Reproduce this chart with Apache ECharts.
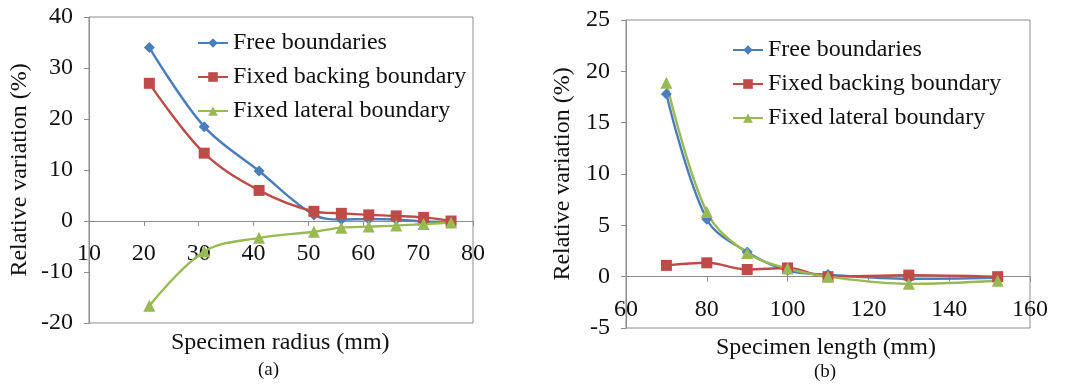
<!DOCTYPE html>
<html>
<head>
<meta charset="utf-8">
<script src="https://cdn.jsdelivr.net/npm/echarts@6/dist/echarts.min.js"></script>
<style>
html,body{margin:0;padding:0;background:#fff;}
#c{width:1067px;height:384px;}
</style>
</head>
<body>
<div id="c"></div>
<script>
// ---- Data ----
var radius = [21, 31, 41, 51, 56, 61, 66, 71, 76];
var radiusFree    = [34.0, 18.5, 9.8, 1.2, 0.3, 0.4, 0.3, -0.1, -0.2];
var radiusBacking = [27.0, 13.3, 6.0, 1.9, 1.5, 1.2, 1.0, 0.7, 0.0];
var radiusLateral = [-16.6, -6.0, -3.3, -2.1, -1.3, -1.1, -0.9, -0.6, -0.3];

var lengths = [70, 80, 90, 100, 110, 130, 152];
var lengthFree    = [17.8, 5.6, 2.4, 0.6, 0.2, -0.2, -0.1];
var lengthBacking = [1.1, 1.35, 0.7, 0.85, 0.0, 0.15, 0.0];
var lengthLateral = [18.9, 6.3, 2.3, 0.8, 0.0, -0.7, -0.4];

var seriesNames = ['Free boundaries', 'Fixed backing boundary', 'Fixed lateral boundary'];

// ---- Styling ----
var FONT = '"Liberation Serif", "Times New Roman", serif';
var colors = ['#4A7EBB', '#BE4B48', '#98B954'];
var symbols = ['diamond', 'rect', 'triangle'];
var symbolSizes = [11, 11, 12];

var grids = [
  { left: 89, top: 17, width: 384, height: 306 },
  { left: 626, top: 20, width: 404, height: 308 }
];
var yRanges = [[-20, 40, 10], [-5, 25, 5]];
var xRanges = [[10, 80, 10], [60, 160, 20]];

function pairs(xs, ys) { return xs.map(function (x, i) { return [x, ys[i]]; }); }

function mkSeries(idx, gi, xs, ys) {
  return {
    name: seriesNames[idx], type: 'line', xAxisIndex: gi, yAxisIndex: gi,
    data: pairs(xs, ys), smooth: 0.35, symbol: symbols[idx], symbolSize: symbolSizes[idx],
    lineStyle: { color: colors[idx], width: 2.4 },
    itemStyle: { color: colors[idx] },
    animation: false
  };
}

// place the x axis line at y = 0 (like Excel's crossing axis)
function zeroOffset(gi) {
  var r = yRanges[gi];
  return -grids[gi].height * (0 - r[0]) / (r[1] - r[0]);
}

function xAx(gi) {
  var r = xRanges[gi];
  return {
    type: 'value', gridIndex: gi, min: r[0], max: r[1], interval: r[2],
    position: 'bottom', offset: zeroOffset(gi),
    axisLine: { onZero: false, lineStyle: { color: '#8C8C8C', width: 1 } },
    axisTick: { show: true, length: 5, lineStyle: { color: '#8C8C8C' } },
    axisLabel: { fontFamily: FONT, fontSize: 24, color: '#111', margin: 21, showMinLabel: true, showMaxLabel: true },
    splitLine: { show: false }
  };
}
function yAx(gi, gap) {
  var r = yRanges[gi];
  return {
    type: 'value', gridIndex: gi, min: r[0], max: r[1], interval: r[2],
    name: 'Relative variation (%)', nameLocation: 'middle', nameGap: gap,
    nameTextStyle: { fontFamily: FONT, fontSize: 24, color: '#111' },
    axisLine: { show: true, onZero: false, lineStyle: { color: '#8C8C8C', width: 1 } },
    axisTick: { show: true, length: 5, lineStyle: { color: '#8C8C8C' } },
    axisLabel: { fontFamily: FONT, fontSize: 24, color: '#111', margin: 16 },
    splitLine: { show: false }
  };
}
function legendAt(left, top) {
  return {
    orient: 'vertical', left: left, top: top, itemWidth: 30, itemHeight: 12, itemGap: 10,
    textStyle: { fontFamily: FONT, fontSize: 24, color: '#111', lineHeight: 24 },
    data: seriesNames
  };
}

var chart = echarts.init(document.getElementById('c'), null, { renderer: 'canvas' });
chart.setOption({
  backgroundColor: '#fff',
  animation: false,
  grid: grids.map(function (g) {
    return { left: g.left, top: g.top, width: g.width, height: g.height, show: true,
      borderColor: '#8C8C8C', borderWidth: 1, backgroundColor: 'transparent' };
  }),
  xAxis: [xAx(0), xAx(1)],
  yAxis: [yAx(0, 57), yAx(1, 51)],
  legend: [legendAt(192, 26), legendAt(727, 33)],
  series: [
    mkSeries(0, 0, radius, radiusFree),
    mkSeries(1, 0, radius, radiusBacking),
    mkSeries(2, 0, radius, radiusLateral),
    mkSeries(0, 1, lengths, lengthFree),
    mkSeries(1, 1, lengths, lengthBacking),
    mkSeries(2, 1, lengths, lengthLateral)
  ],
  graphic: [
    { type: 'text', left: 281 - 110, top: 331, style: { text: 'Specimen radius (mm)', font: '24px ' + FONT, fill: '#111' } },
    { type: 'text', left: 258, top: 361, style: { text: '(a)', font: '19px ' + FONT, fill: '#111' } },
    { type: 'text', left: 827 - 111, top: 336, style: { text: 'Specimen length (mm)', font: '24px ' + FONT, fill: '#111' } },
    { type: 'text', left: 814, top: 363, style: { text: '(b)', font: '19px ' + FONT, fill: '#111' } }
  ]
});
</script>
</body>
</html>
